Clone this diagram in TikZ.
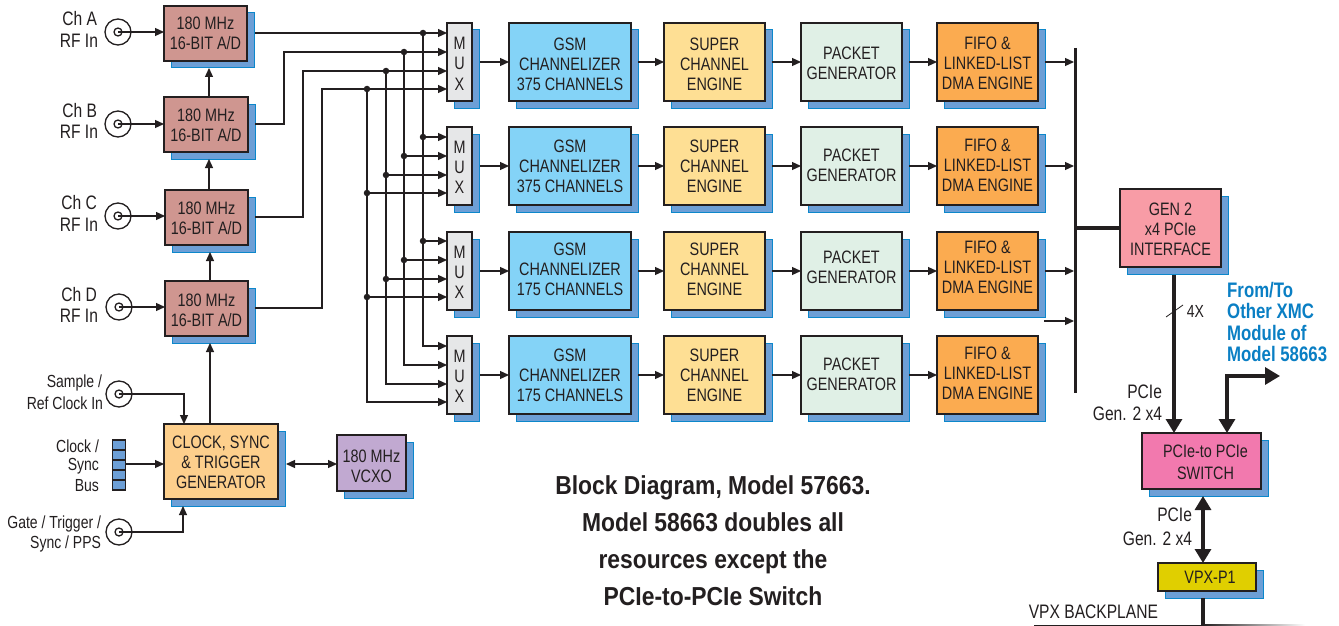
\documentclass[tikz,border=0pt]{standalone}
\usepackage{fontspec}
\setmainfont[FakeStretch=0.8]{Liberation Sans}
\newfontfamily\capfont[FakeStretch=0.88]{Liberation Sans}
\usetikzlibrary{arrows.meta,shadows,calc}
\definecolor{ln}{HTML}{231F20}
\definecolor{shf}{HTML}{6D9FD6}
\definecolor{shd}{HTML}{0C87CB}
\definecolor{cadc}{HTML}{CF9690}
\definecolor{cmux}{HTML}{E6E7E8}
\definecolor{cgsm}{HTML}{84D3F7}
\definecolor{csup}{HTML}{FEDF94}
\definecolor{cpkt}{HTML}{E0F0E6}
\definecolor{cfifo}{HTML}{FBAB50}
\definecolor{cpci}{HTML}{F89CA6}
\definecolor{cswi}{HTML}{F279AE}
\definecolor{cvpx}{HTML}{E0CF00}
\definecolor{cclk}{HTML}{FDCF8C}
\definecolor{cvco}{HTML}{C1A9D1}
\definecolor{cblue}{HTML}{0A7FC4}
\tikzset{
  blk/.style={draw=ln,line width=1.3pt,inner sep=0pt,outer sep=0pt,align=center,text=ln,
    font=\fontsize{18}{20}\selectfont,
    general shadow={shadow xshift=7pt,shadow yshift=-7pt,fill=shf,draw=shd,line width=1pt}},
  wire/.style={draw=ln,line width=1.2pt},
  arr/.style={wire,-{Triangle[length=9pt,width=8pt]}},
  darr/.style={wire,{Triangle[length=9pt,width=8pt]}-{Triangle[length=9pt,width=8pt]}},
  fat/.style={draw=ln,line width=3.2pt},
  fatarr/.style={fat,-{Triangle[length=14pt,width=16pt]}},
  fatdarr/.style={fat,{Triangle[length=14pt,width=16pt]}-{Triangle[length=14pt,width=16pt]}},
  junct/.style={circle,fill=ln,inner sep=0pt,minimum size=6.5pt},
  rfouter/.style={circle,draw=ln,line width=1.3pt,fill=white,inner sep=0pt,minimum size=26pt},
  rfinner/.style={circle,draw=ln,line width=1.3pt,fill=white,inner sep=0pt,minimum size=8pt},
  lbl/.style={inner sep=0pt,outer sep=0pt,text=ln,align=right,anchor=east,font=\fontsize{17.5}{20}\selectfont},
  lblbig/.style={lbl,font=\fontsize{19.5}{20}\selectfont},
  captxt/.style={inner sep=0pt,text=ln,font=\capfont\bfseries\fontsize{26}{37}\selectfont,align=center},
  bluetxt/.style={inner sep=0pt,text=cblue,align=left,anchor=north west,font=\bfseries\fontsize{21}{21.3}\selectfont},
  cell/.style={draw=ln,line width=1.4pt,fill=shf,inner sep=0pt,minimum width=13pt,minimum height=10pt}
}
\newcommand{\sft}[2]{\ifdim#1pt>0pt\rule{0pt}{\dimexpr13pt+#1pt*2\relax}\fi #2\ifdim#1pt<0pt\rule[\dimexpr#1pt*2\relax]{0pt}{0.1pt}\fi}
\newcommand{\blk}[7]{%
  \pgfmathsetmacro{\bw}{#4-#2}\pgfmathsetmacro{\bh}{#5-#3}%
  \node[blk,fill=#6,minimum width=\bw pt,minimum height=\bh pt] (#1) at ({(#2+#4)/2},{(#3+#5)/2}) {#7};}
\begin{document}
\begin{tikzpicture}[x=1pt,y=-1pt]
\useasboundingbox (0,0) rectangle (1339,626);
\fill[white] (0,0) rectangle (1339,626);

% A/D converters
\blk{adcA}{164}{6}{247}{61}{cadc}{180 MHz\\16-BIT A/D}
\blk{adcB}{164}{97}{248}{152}{cadc}{\sft{1}{180 MHz\\16-BIT A/D}}
\blk{adcC}{165}{190}{248}{245}{cadc}{\sft{1}{180 MHz\\16-BIT A/D}}
\blk{adcD}{165}{281}{248}{336}{cadc}{\sft{2}{180 MHz\\16-BIT A/D}}

% processing rows
\foreach \r/\ya/\yb/\ch/\sa/\sm/\sp/\sf in {1/23/101/375/2/1.5/1/1,2/127/205/375/0.5/1/-1/-1,3/232/310/175/-2/1/-4/-4,4/336/414/175/0.5/1/-1/-2}{
  \blk{mux\r}{447}{\ya}{472}{\yb}{cmux}{\sft{\sm}{M\\U\\X}}
  \blk{gsm\r}{509}{\ya}{631}{\yb}{cgsm}{\sft{\sa}{GSM\\CHANNELIZER\\\ch{} CHANNELS}}
  \blk{sup\r}{664}{\ya}{765}{\yb}{csup}{\sft{\sa}{SUPER\\CHANNEL\\ENGINE}}
  \blk{pkt\r}{801}{\ya}{902}{\yb}{cpkt}{\sft{\sp}{PACKET\\GENERATOR}}
  \blk{fifo\r}{937}{\ya}{1038}{\yb}{cfifo}{\sft{\sf}{FIFO \&\\LINKED-LIST\\DMA ENGINE}}
  \draw[arr,yshift=-2pt] ([xshift=8pt]mux\r.east) -- (gsm\r.west);
  \draw[arr,yshift=-2pt] ([xshift=7pt]gsm\r.east) -- (sup\r.west);
  \draw[arr,yshift=-2pt] ([xshift=7pt]sup\r.east) -- (pkt\r.west);
  \draw[arr,yshift=-2pt] ([xshift=7pt]pkt\r.east) -- (fifo\r.west);
}

% others
\blk{clk}{164}{424}{278}{499}{cclk}{\sft{1}{CLOCK, SYNC\\\& TRIGGER\\GENERATOR}}
\blk{vco}{337}{435}{406}{491}{cvco}{\sft{3}{180 MHz\\VCXO}}
\blk{pci}{1120}{189}{1221}{267}{cpci}{\sft{1}{GEN 2\\x4 PCIe\\INTERFACE}}
\blk{swi}{1142}{433}{1261}{489}{cswi}{\sft{1}{\hspace*{8pt}PCIe-to PCIe\\[2pt]\hspace*{8pt}SWITCH}}
\blk{vpx}{1158}{563}{1256}{591}{cvpx}{\hspace*{6pt}VPX-P1}

% RF connectors
\foreach \n/\x/\y in {A/118/32,B/118/124,C/118/216,D/119/307,S/119/394,G/119/532}{
  \node[rfouter] (o\n) at (\x,\y) {};
  \node[rfinner] (c\n) at (\x,\y) {};
}
\foreach \n/\a in {A/adcA,B/adcB,C/adcC,D/adcD}{
  \draw[arr] (c\n.center) -- (c\n.center -| \a.west);
}
\node[lblbig] (lA1) at (97,19) {Ch A};
\node[lblbig] (lA2) at (98,41) {RF In};
\node[lblbig] (lB1) at (97,111) {Ch B};
\node[lblbig] (lB2) at (98,132) {RF In};
\node[lblbig] (lC1) at (97,203) {Ch C};
\node[lblbig] (lC2) at (98,225) {RF In};
\node[lblbig] (lD1) at (97,295) {Ch D};
\node[lblbig] (lD2) at (98,316) {RF In};
\node[lbl] (lS1) at (102,383) {Sample /};
\node[lbl] (lS2) at (103,403) {Ref Clock In};
\node[lbl] (lK1) at (99,446) {Clock /};
\node[lbl] (lK2) at (99,466) {Sync};
\node[lbl] (lK3) at (99,486) {Bus};
\node[lbl] (lG1) at (101,524) {Gate / Trigger /};
\node[lbl] (lG2) at (101,544) {Sync / PPS};

% clock bus symbol
\foreach \i/\y in {1/445,2/455,3/465,4/475,5/485}{
  \node[cell] (bus\i) at (119,\y) {};
}

% clock connections
\coordinate (sdrop) at (184,424);
\coordinate (grise) at (183,506);
\draw[arr] (cS.center) -| (sdrop);
\draw[arr] (cG.center) -| (grise);
\coordinate (clkL) at (164,464);
\coordinate (clkR) at (286,464);
\coordinate (vcoL) at (337,464);
\draw[arr] (bus3.east |- clkL) -- (clkL);
\draw[darr] (clkR) -- (vcoL);
\coordinate (clkup) at (210,424);
\coordinate (dbot) at (210,343);
\draw[arr] (clkup) -- (dbot);
\coordinate (dtop) at (210,281); \coordinate (cbot) at (210,252);
\draw[arr] (dtop) -- (cbot);
\coordinate (ctop) at (209,190); \coordinate (bbot) at (209,159);
\draw[arr] (ctop) -- (bbot);
\coordinate (btop) at (209,97); \coordinate (abot) at (209,68);
\draw[arr] (btop) -- (abot);

% MUX inputs and buses
\foreach \m/\b in {1/33,2/137,3/241,4/346}{
  \foreach \k/\o in {1/0,2/19,3/38,4/56}{
    \pgfmathsetmacro{\yy}{\b+\o}
    \coordinate (i\m\k) at (447,\yy);
  }
}
\foreach \k/\x in {1/423,2/404,3/386,4/367}{
  \foreach \m in {1,2,3}{
    \node[junct] (d\m\k) at (\x,0 |- i\m\k) {};
  }
  \draw[arr] (d1\k.center) |- (i4\k);
  \draw[arr] (d2\k.center) -- (i2\k);
  \draw[arr] (d3\k.center) -- (i3\k);
}
\coordinate (oA) at (255,33);
\coordinate (oB) at (255,124);
\coordinate (oC) at (255,217);
\coordinate (oD) at (255,308);
\coordinate (jB) at (284,52);
\coordinate (jC) at (303,71);
\coordinate (jD) at (322,89);
\draw[arr] (oA) -- (i11);
\draw[arr] (oB) -| (jB) -- (i12);
\draw[arr] (oC) -| (jC) -- (i13);
\draw[arr] (oD) -| (jD) -- (i14);

% DMA bus
\coordinate (busT) at (1075,48);
\coordinate (busB) at (1075,393);
\coordinate (busP) at (1075,228);
\draw[draw=ln,line width=3pt] (busT) -- (busB);
\draw[fat] (busP) -- (busP -| pci.west);
\draw[arr,yshift=-2pt] ([xshift=7pt]fifo1.east) -- ([xshift=-1pt]fifo1.east -| busT);
\draw[arr,yshift=-2pt] ([xshift=7pt]fifo2.east) -- ([xshift=-1pt]fifo2.east -| busT);
\draw[arr,yshift=-1pt] ([xshift=7pt]fifo3.east) -- ([xshift=-1pt]fifo3.east -| busT);
\coordinate (freeIn) at (1044,321);
\draw[arr] (freeIn) -- ([xshift=-1pt]freeIn -| busT);

% PCIe side
\coordinate (pOut) at (1174,275);
\coordinate (sIn) at (1174,433);
\draw[fatarr] (pOut) -- (sIn);
\coordinate (t1) at (1166,317);
\coordinate (t2) at (1183,305);
\draw[draw=ln,line width=0.8pt] (t1) -- (t2);
\node[lbl] (l4x) at (1204,311) {4X};
\node[lblbig] (lP1) at (1162,392) {PCIe};
\node[lblbig] (lP2) at (1162,414) {Gen. 2 x4};
\node[lblbig] (lP3) at (1192,515) {PCIe};
\node[lblbig] (lP4) at (1192,539) {Gen. 2 x4};
\coordinate (sIn2) at (1227,433);
\coordinate (xOut) at (1280,376);
\draw[fat,{Triangle[length=14pt,width=16pt]}-{Triangle[length=15pt,width=17pt]}] (sIn2) |- (xOut);
\node[bluetxt] (lB) at (1227,282) {From/To\\Other XMC\\Module of\\Model 58663};
\coordinate (sOut) at (1203,496);
\coordinate (vIn) at (1203,563);
\draw[fatdarr] (sOut) -- (vIn);
\coordinate (vOut) at (1203,598);
\coordinate (vEnd) at (1203,626);
\draw[fat] (vOut) -- (vEnd);
\coordinate (bpL) at (1034,625);
\coordinate (bpM) at (1203,625);
\draw[draw=ln,line width=1pt] (bpL) -- (bpM);
\shade[left color=ln,right color=white] (1203,624.5) rectangle (1305,625.5);
\node[lblbig] (lBP) at (1158,612) {VPX BACKPLANE};

% caption
\node[captxt] (capt) at (713,541) {Block Diagram, Model 57663.\\Model 58663 doubles all\\resources except the\\PCIe-to-PCIe Switch};
\end{tikzpicture}
\end{document}
